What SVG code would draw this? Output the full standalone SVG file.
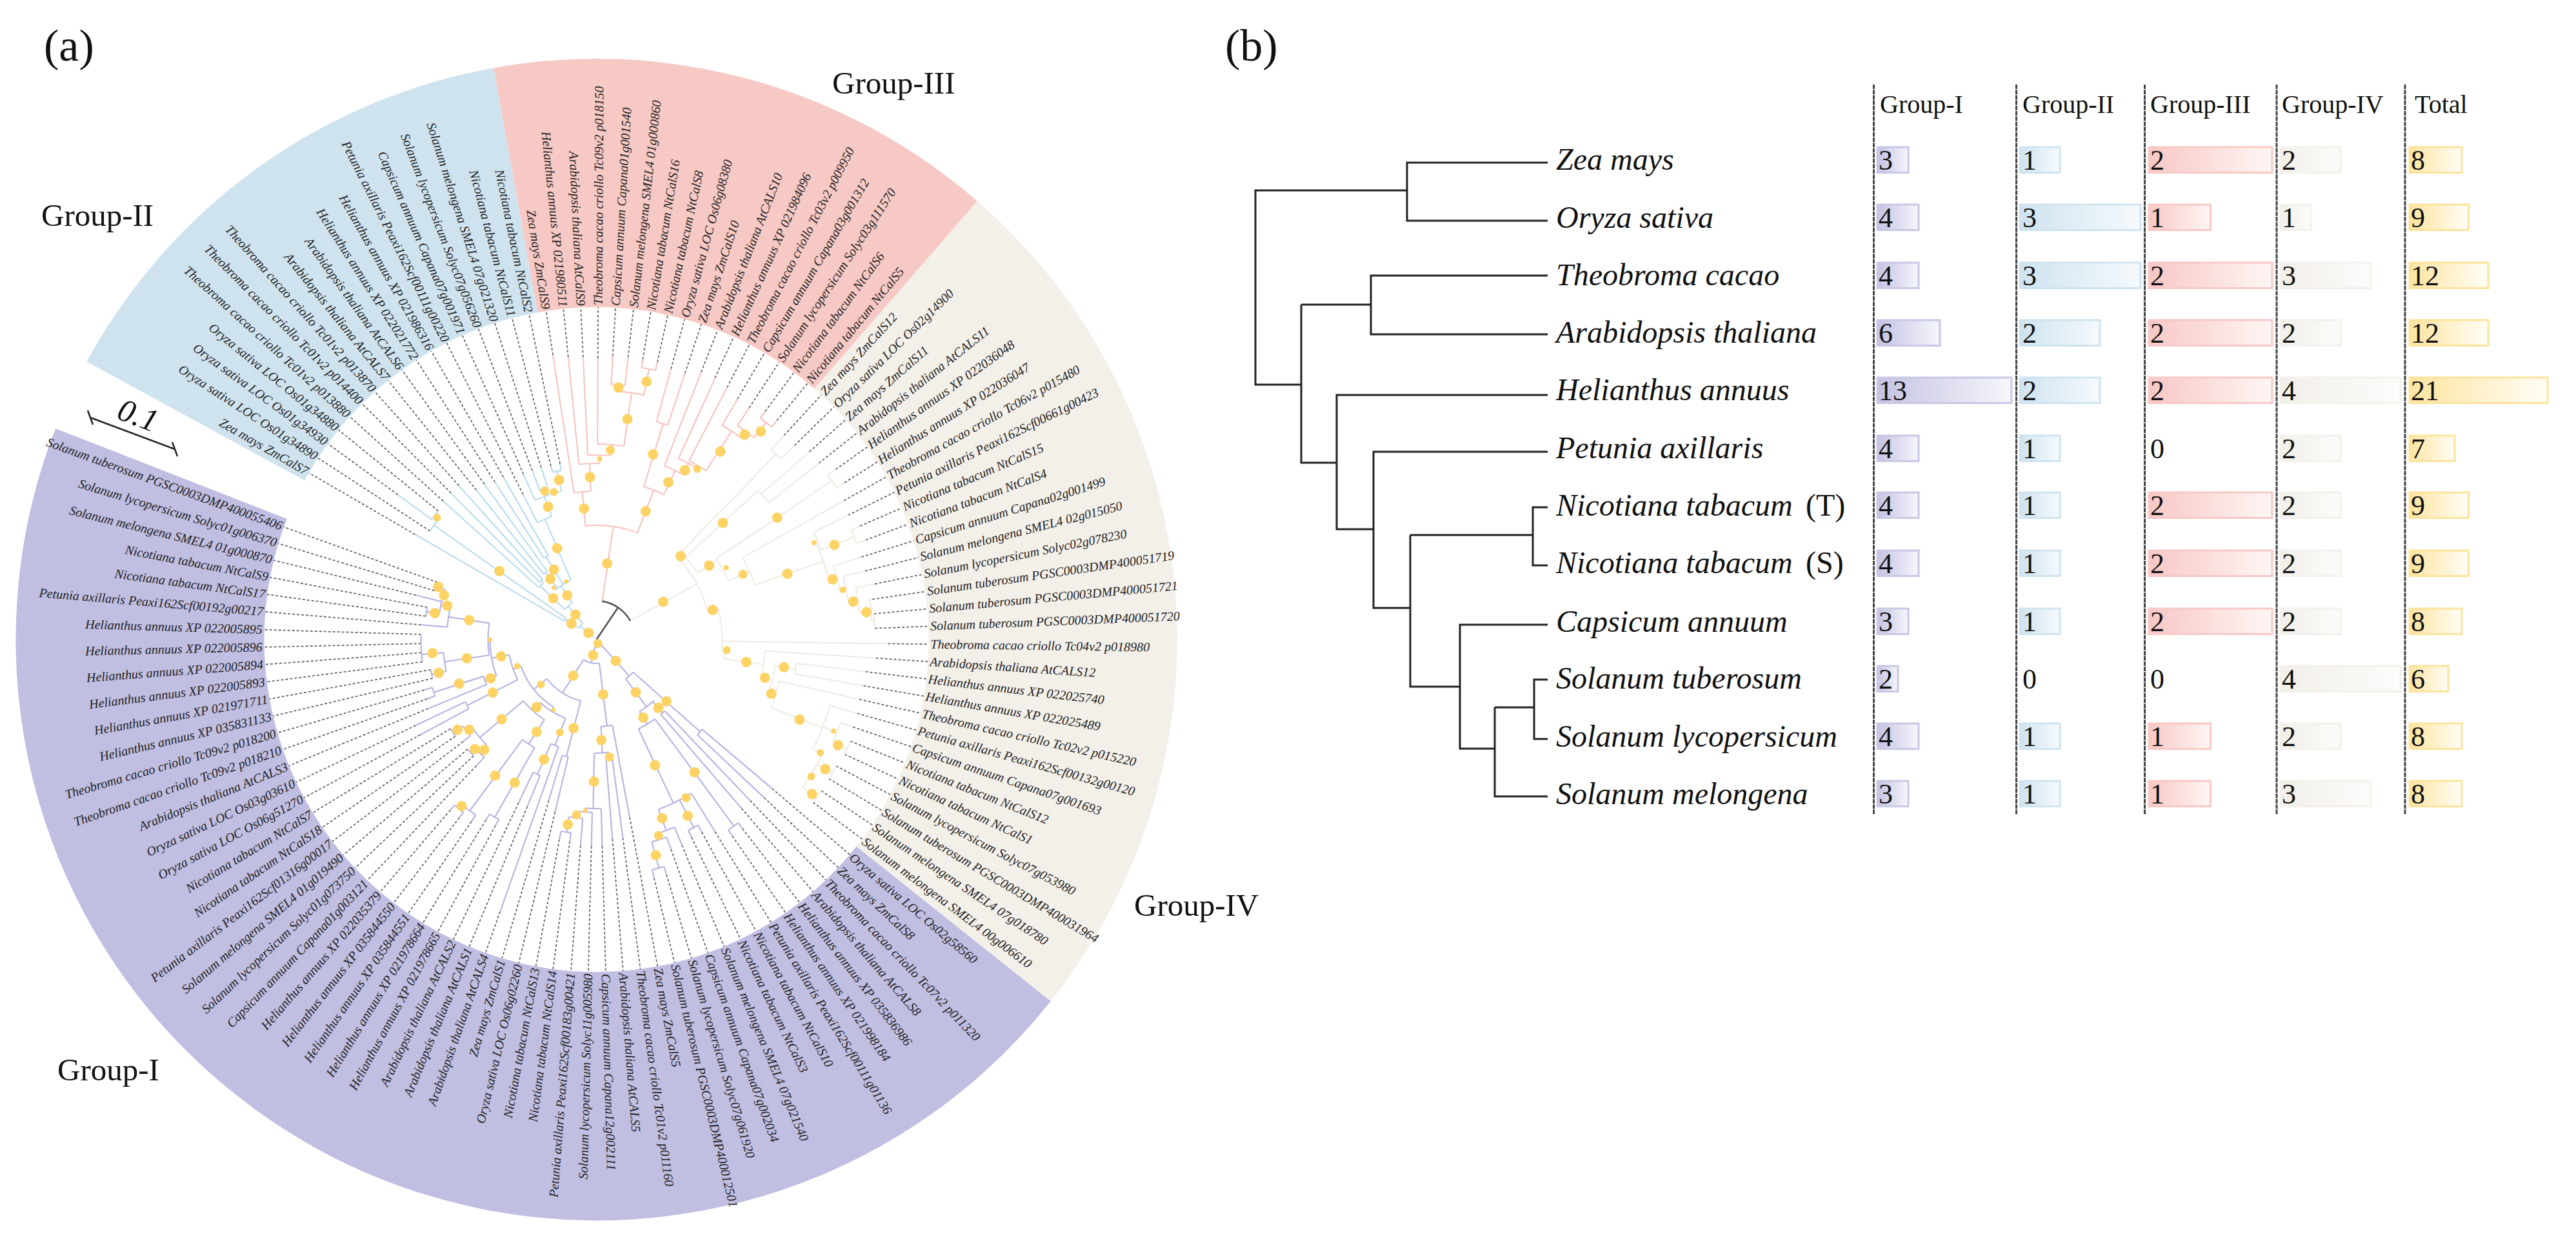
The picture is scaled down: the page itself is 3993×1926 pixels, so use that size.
<svg xmlns="http://www.w3.org/2000/svg" width="3993" height="1926" viewBox="0 0 3993 1926">
<style>
text{font-family:"Liberation Serif","Times New Roman",serif;fill:#111}
.tip text{font-size:20px;font-style:italic;fill:#222}
.l{text-anchor:end}
.big{font-size:49px}
.sp{font-size:48px;font-style:italic}
.up{font-size:48px;font-style:normal}
.hd{font-size:40px}
.n{font-size:44px}
.sec circle{fill:none;stroke-width:385}
.arc circle,.root{fill:none}
.dash path{fill:none;stroke:#666;stroke-width:1.8;stroke-dasharray:4 3}
.arc{fill:none;stroke-width:2.2}
.pu{stroke:#b8b6e2}
.bl{stroke:#bcdcee}
.pk{stroke:#f8c5c1}
.be{stroke:#efece4}
.root{stroke:#555;stroke-width:2.6}
.dots circle{fill:#fdd365}
.tree path{fill:none;stroke:#222;stroke-width:3}
.col path{stroke:#444;stroke-width:3;stroke-dasharray:7 1.2;fill:none}
rect.b{stroke-width:3}
.g1{fill:url(#f1);stroke:#c9c8e6}
.g2{fill:url(#f2);stroke:#cfe4f0}
.g3{fill:url(#f3);stroke:#f8c9c6}
.g4{fill:url(#f4);stroke:#f4f1ec}
.g5{fill:url(#f5);stroke:#fde39c}
</style>
<defs>
<linearGradient id="f1"><stop offset="0" stop-color="#c4c3e3"/><stop offset="1" stop-color="#f6f6fb"/></linearGradient>
<linearGradient id="f2"><stop offset="0" stop-color="#cfe3ef"/><stop offset="1" stop-color="#f6fafd"/></linearGradient>
<linearGradient id="f3"><stop offset="0" stop-color="#f7c8c5"/><stop offset="1" stop-color="#fff6f5"/></linearGradient>
<linearGradient id="f4"><stop offset="0" stop-color="#f2efe9"/><stop offset="1" stop-color="#fdfcfb"/></linearGradient>
<linearGradient id="f5"><stop offset="0" stop-color="#fde4a0"/><stop offset="1" stop-color="#fffdf6"/></linearGradient>
</defs>
<rect width="3993" height="1926" fill="#fff"/>
<g id="panel-a" transform="translate(924.5 991)">
<g id="sectors" class="sec">
<circle r="707.5" pathLength="360" stroke="#c0bee1" stroke-dasharray="162.8 720" transform="rotate(38.5)"/>
<circle r="707.5" pathLength="360" stroke="#cfe3ef" stroke-dasharray="51.2 720" transform="rotate(208.6)"/>
<circle r="707.5" pathLength="360" stroke="#f7c9c5" stroke-dasharray="51.2 720" transform="rotate(259.8)"/>
<circle r="707.5" pathLength="360" stroke="#f3efe9" stroke-dasharray="87.5 720" transform="rotate(311)"/>
</g>
<g id="connectors">
<g class="dash">
<path d="M262 0H515" transform="rotate(199.8)"/><path d="M262 0H515" transform="rotate(196.8)"/><path d="M288 0H515" transform="rotate(193.8)"/><path d="M267 0H515" transform="rotate(190.8)"/><path d="M267 0H515" transform="rotate(187.8)"/><path d="M273 0H515" transform="rotate(184.8)"/><path d="M272 0H515" transform="rotate(181.7)"/><path d="M272 0H515" transform="rotate(178.7)"/><path d="M272 0H515" transform="rotate(175.7)"/><path d="M272 0H515" transform="rotate(172.7)"/><path d="M261 0H515" transform="rotate(169.7)"/><path d="M261 0H515" transform="rotate(166.7)"/><path d="M278 0H515" transform="rotate(163.7)"/><path d="M278 0H515" transform="rotate(160.7)"/><path d="M282 0H515" transform="rotate(157.7)"/><path d="M310 0H515" transform="rotate(154.6)"/><path d="M310 0H515" transform="rotate(151.6)"/><path d="M265 0H515" transform="rotate(148.6)"/><path d="M265 0H515" transform="rotate(145.6)"/><path d="M260 0H515" transform="rotate(142.6)"/><path d="M262 0H515" transform="rotate(139.6)"/><path d="M262 0H515" transform="rotate(136.6)"/><path d="M270 0H515" transform="rotate(133.6)"/><path d="M348 0H515" transform="rotate(130.6)"/><path d="M348 0H515" transform="rotate(127.6)"/><path d="M342 0H515" transform="rotate(124.5)"/><path d="M328 0H515" transform="rotate(121.5)"/><path d="M328 0H515" transform="rotate(118.5)"/><path d="M280 0H515" transform="rotate(115.5)"/><path d="M280 0H515" transform="rotate(112.5)"/><path d="M447 0H515" transform="rotate(109.5)"/><path d="M260 0H515" transform="rotate(106.5)"/><path d="M275 0H515" transform="rotate(103.5)"/><path d="M315 0H515" transform="rotate(100.5)"/><path d="M315 0H515" transform="rotate(97.5)"/><path d="M320 0H515" transform="rotate(94.4)"/><path d="M320 0H515" transform="rotate(91.4)"/><path d="M320 0H515" transform="rotate(88.4)"/><path d="M310 0H515" transform="rotate(85.4)"/><path d="M310 0H515" transform="rotate(82.4)"/><path d="M280 0H515" transform="rotate(79.4)"/><path d="M380 0H515" transform="rotate(76.4)"/><path d="M380 0H515" transform="rotate(73.4)"/><path d="M345 0H515" transform="rotate(70.4)"/><path d="M345 0H515" transform="rotate(67.4)"/><path d="M340 0H515" transform="rotate(64.3)"/><path d="M340 0H515" transform="rotate(61.3)"/><path d="M350 0H515" transform="rotate(58.3)"/><path d="M370 0H515" transform="rotate(55.3)"/><path d="M370 0H515" transform="rotate(52.3)"/><path d="M345 0H515" transform="rotate(49.3)"/><path d="M345 0H515" transform="rotate(46.3)"/><path d="M357 0H515" transform="rotate(43.3)"/><path d="M357 0H515" transform="rotate(40.3)"/>
<path d="M325 0H515" transform="rotate(210.1)"/><path d="M308 0H515" transform="rotate(213.1)"/><path d="M381 0H515" transform="rotate(216.1)"/><path d="M316 0H515" transform="rotate(219.1)"/><path d="M320 0H515" transform="rotate(222.1)"/><path d="M320 0H515" transform="rotate(225.2)"/><path d="M320 0H515" transform="rotate(228.2)"/><path d="M297 0H515" transform="rotate(231.2)"/><path d="M297 0H515" transform="rotate(234.2)"/><path d="M290 0H515" transform="rotate(237.2)"/><path d="M290 0H515" transform="rotate(240.2)"/><path d="M252 0H515" transform="rotate(243.2)"/><path d="M280 0H515" transform="rotate(246.2)"/><path d="M280 0H515" transform="rotate(249.2)"/><path d="M280 0H515" transform="rotate(252.2)"/><path d="M278 0H515" transform="rotate(255.3)"/><path d="M278 0H515" transform="rotate(258.3)"/>
<path d="M446 0H515" transform="rotate(261.3)"/><path d="M440 0H515" transform="rotate(264.3)"/><path d="M438 0H515" transform="rotate(267.3)"/><path d="M436 0H515" transform="rotate(270.3)"/><path d="M440 0H515" transform="rotate(273.3)"/><path d="M440 0H515" transform="rotate(276.4)"/><path d="M440 0H515" transform="rotate(279.4)"/><path d="M440 0H515" transform="rotate(282.4)"/><path d="M435 0H515" transform="rotate(285.4)"/><path d="M435 0H515" transform="rotate(288.4)"/><path d="M445 0H515" transform="rotate(291.4)"/><path d="M445 0H515" transform="rotate(294.4)"/><path d="M440 0H515" transform="rotate(297.4)"/><path d="M432 0H515" transform="rotate(300.4)"/><path d="M430 0H515" transform="rotate(303.4)"/><path d="M440 0H515" transform="rotate(306.5)"/><path d="M440 0H515" transform="rotate(309.5)"/>
<path d="M430 0H515" transform="rotate(312.6)"/><path d="M430 0H515" transform="rotate(315.6)"/><path d="M440 0H515" transform="rotate(318.6)"/><path d="M440 0H515" transform="rotate(321.6)"/><path d="M455 0H515" transform="rotate(324.6)"/><path d="M455 0H515" transform="rotate(327.7)"/><path d="M440 0H515" transform="rotate(330.7)"/><path d="M435 0H515" transform="rotate(333.7)"/><path d="M445 0H515" transform="rotate(336.7)"/><path d="M445 0H515" transform="rotate(339.7)"/><path d="M430 0H515" transform="rotate(342.7)"/><path d="M430 0H515" transform="rotate(345.7)"/><path d="M440 0H515" transform="rotate(348.7)"/><path d="M432 0H515" transform="rotate(351.7)"/><path d="M432 0H515" transform="rotate(354.7)"/><path d="M432 0H515" transform="rotate(357.7)"/><path d="M452 0H515" transform="rotate(0.8)"/><path d="M434 0H515" transform="rotate(3.8)"/><path d="M420 0H515" transform="rotate(6.8)"/><path d="M420 0H515" transform="rotate(9.8)"/><path d="M418 0H515" transform="rotate(12.8)"/><path d="M420 0H515" transform="rotate(15.8)"/><path d="M420 0H515" transform="rotate(18.8)"/><path d="M424 0H515" transform="rotate(21.8)"/><path d="M424 0H515" transform="rotate(24.8)"/><path d="M420 0H515" transform="rotate(27.8)"/><path d="M420 0H515" transform="rotate(30.9)"/><path d="M420 0H515" transform="rotate(33.9)"/><path d="M420 0H515" transform="rotate(36.9)"/>
</g>
<g id="clade-IV" class="arc be">
<path d="M60 0H178" transform="rotate(331)"/><circle r="178" pathLength="360" stroke-dasharray="30.6 720" transform="rotate(315)"/><path d="M178 0H188" transform="rotate(315)"/><circle r="188" pathLength="360" stroke-dasharray="12.6 720" transform="rotate(314.1)"/><path d="M188 0H400" transform="rotate(314.1)"/><circle r="400" pathLength="360" stroke-dasharray="3 720" transform="rotate(312.6)"/><path d="M400 0H430" transform="rotate(312.6)"/><path d="M400 0H430" transform="rotate(315.6)"/><path d="M188 0H341" transform="rotate(317.3)"/><circle r="341" pathLength="360" stroke-dasharray="4.3 720" transform="rotate(317.3)"/><path d="M341 0H440" transform="rotate(318.6)"/><path d="M341 0H440" transform="rotate(321.6)"/>
<path d="M188 0H224" transform="rotate(326.7)"/><circle r="224" pathLength="360" stroke-dasharray="10 720" transform="rotate(326)"/><path d="M224 0H440" transform="rotate(326)"/><circle r="440" pathLength="360" stroke-dasharray="3.1 720" transform="rotate(324.6)"/><path d="M440 0H455" transform="rotate(324.6)"/><path d="M440 0H455" transform="rotate(327.7)"/><path d="M224 0H260" transform="rotate(336)"/><circle r="260" pathLength="360" stroke-dasharray="10.3 720" transform="rotate(330.7)"/><path d="M260 0H440" transform="rotate(330.7)"/><path d="M260 0H372" transform="rotate(341)"/><circle r="372" pathLength="360" stroke-dasharray="9.7 720" transform="rotate(336)"/><path d="M372 0H375" transform="rotate(336)"/><circle r="375" pathLength="360" stroke-dasharray="4.6 720" transform="rotate(333.7)"/><path d="M375 0H435" transform="rotate(333.7)"/><path d="M375 0H430" transform="rotate(338.3)"/><circle r="430" pathLength="360" stroke-dasharray="3 720" transform="rotate(336.7)"/><path d="M430 0H445" transform="rotate(336.7)"/><path d="M430 0H445" transform="rotate(339.7)"/>
<path d="M372 0H385" transform="rotate(345.7)"/><circle r="385" pathLength="360" stroke-dasharray="5.9 720" transform="rotate(342.7)"/><path d="M385 0H430" transform="rotate(342.7)"/><path d="M385 0H395" transform="rotate(348.6)"/><circle r="395" pathLength="360" stroke-dasharray="5.9 720" transform="rotate(345.7)"/><path d="M395 0H430" transform="rotate(345.7)"/><path d="M395 0H410" transform="rotate(351.6)"/><circle r="410" pathLength="360" stroke-dasharray="5.5 720" transform="rotate(348.7)"/><path d="M410 0H440" transform="rotate(348.7)"/><path d="M410 0H428" transform="rotate(354.2)"/><circle r="428" pathLength="360" stroke-dasharray="4.5 720" transform="rotate(351.7)"/><path d="M428 0H432" transform="rotate(351.7)"/><path d="M428 0H432" transform="rotate(356.2)"/><circle r="432" pathLength="360" stroke-dasharray="3 720" transform="rotate(354.7)"/>
<path d="M178 0H195" transform="rotate(345.6)"/><circle r="195" pathLength="360" stroke-dasharray="19 720" transform="rotate(345.6)"/><path d="M195 0H452" transform="rotate(0.8)"/><path d="M195 0H200" transform="rotate(4.6)"/><circle r="200" pathLength="360" stroke-dasharray="3.9 720" transform="rotate(4.6)"/><path d="M200 0H262" transform="rotate(8.5)"/><circle r="262" pathLength="360" stroke-dasharray="9.2 720" transform="rotate(3.8)"/><path d="M262 0H434" transform="rotate(3.8)"/><path d="M262 0H280" transform="rotate(13)"/><circle r="280" pathLength="360" stroke-dasharray="8.8 720" transform="rotate(8.4)"/><path d="M280 0H312" transform="rotate(8.4)"/><circle r="312" pathLength="360" stroke-dasharray="3 720" transform="rotate(6.8)"/><path d="M312 0H420" transform="rotate(6.8)"/><path d="M312 0H420" transform="rotate(9.8)"/><path d="M280 0H291" transform="rotate(17.2)"/><circle r="291" pathLength="360" stroke-dasharray="8.5 720" transform="rotate(12.8)"/><path d="M291 0H418" transform="rotate(12.8)"/><path d="M291 0H376" transform="rotate(21.3)"/><circle r="376" pathLength="360" stroke-dasharray="11 720" transform="rotate(15.8)"/><path d="M376 0H420" transform="rotate(15.8)"/><path d="M376 0H400" transform="rotate(21.1)"/><circle r="400" pathLength="360" stroke-dasharray="4.8 720" transform="rotate(18.8)"/><path d="M400 0H420" transform="rotate(18.8)"/><path d="M400 0H424" transform="rotate(23.6)"/><circle r="424" pathLength="360" stroke-dasharray="3 720" transform="rotate(21.8)"/><path d="M376 0H393" transform="rotate(26.8)"/><circle r="393" pathLength="360" stroke-dasharray="8.8 720" transform="rotate(26.8)"/><path d="M393 0H420" transform="rotate(29.5)"/><circle r="420" pathLength="360" stroke-dasharray="3.1 720" transform="rotate(27.8)"/><path d="M393 0H420" transform="rotate(35.6)"/><circle r="420" pathLength="360" stroke-dasharray="3 720" transform="rotate(33.9)"/>
</g>
<g id="clade-III" class="arc pk">
<path d="M60 0H177" transform="rotate(278.5)"/><circle r="177" pathLength="360" stroke-dasharray="26.5 720" transform="rotate(264.5)"/><path d="M177 0H230" transform="rotate(264.5)"/><circle r="230" pathLength="360" stroke-dasharray="6.5 720" transform="rotate(261.3)"/><path d="M230 0H446" transform="rotate(261.3)"/><path d="M230 0H273" transform="rotate(267.8)"/><circle r="273" pathLength="360" stroke-dasharray="6.8 720" transform="rotate(264.3)"/><path d="M273 0H440" transform="rotate(264.3)"/><path d="M273 0H286" transform="rotate(271.1)"/><circle r="286" pathLength="360" stroke-dasharray="7.2 720" transform="rotate(267.3)"/><path d="M286 0H438" transform="rotate(267.3)"/><path d="M286 0H303" transform="rotate(274.5)"/><circle r="303" pathLength="360" stroke-dasharray="7.8 720" transform="rotate(270.3)"/><path d="M303 0H436" transform="rotate(270.3)"/><path d="M303 0H386" transform="rotate(278.1)"/><circle r="386" pathLength="360" stroke-dasharray="6 720" transform="rotate(275)"/><path d="M386 0H396" transform="rotate(275)"/><circle r="396" pathLength="360" stroke-dasharray="3.1 720" transform="rotate(273.3)"/><path d="M396 0H440" transform="rotate(273.3)"/><path d="M396 0H440" transform="rotate(276.4)"/><path d="M386 0H427" transform="rotate(281)"/><circle r="427" pathLength="360" stroke-dasharray="3 720" transform="rotate(279.4)"/><path d="M427 0H440" transform="rotate(279.4)"/><path d="M427 0H440" transform="rotate(282.4)"/>
<path d="M177 0H248" transform="rotate(291)"/><circle r="248" pathLength="360" stroke-dasharray="7.8 720" transform="rotate(287.2)"/><path d="M248 0H350" transform="rotate(287.2)"/><circle r="350" pathLength="360" stroke-dasharray="3 720" transform="rotate(285.4)"/><path d="M350 0H435" transform="rotate(285.4)"/><path d="M350 0H435" transform="rotate(288.4)"/><path d="M248 0H289" transform="rotate(295)"/><circle r="289" pathLength="360" stroke-dasharray="6.2 720" transform="rotate(291.4)"/><path d="M289 0H445" transform="rotate(291.4)"/><path d="M289 0H308" transform="rotate(297.6)"/><circle r="308" pathLength="360" stroke-dasharray="6 720" transform="rotate(294.4)"/><path d="M308 0H445" transform="rotate(294.4)"/><path d="M308 0H312" transform="rotate(300.4)"/><circle r="312" pathLength="360" stroke-dasharray="5.6 720" transform="rotate(297.4)"/><path d="M312 0H440" transform="rotate(297.4)"/><path d="M312 0H385" transform="rotate(303)"/><circle r="385" pathLength="360" stroke-dasharray="5.4 720" transform="rotate(300.4)"/><path d="M385 0H432" transform="rotate(300.4)"/><path d="M385 0H397" transform="rotate(305.8)"/><circle r="397" pathLength="360" stroke-dasharray="4.6 720" transform="rotate(303.4)"/><path d="M397 0H430" transform="rotate(303.4)"/><path d="M397 0H427" transform="rotate(308)"/><circle r="427" pathLength="360" stroke-dasharray="3 720" transform="rotate(306.5)"/><path d="M427 0H440" transform="rotate(306.5)"/><path d="M427 0H440" transform="rotate(309.5)"/>
</g>
<g id="clade-II" class="arc bl">
<path d="M5 0H33" transform="rotate(220)"/><circle r="33" pathLength="360" stroke-dasharray="17.3 720" transform="rotate(212.7)"/><path d="M33 0H57" transform="rotate(212.7)"/><circle r="57" pathLength="360" stroke-dasharray="5 720" transform="rotate(210.1)"/><path d="M57 0H325" transform="rotate(210.1)"/><path d="M57 0H308" transform="rotate(215.1)"/><circle r="308" pathLength="360" stroke-dasharray="4.4 720" transform="rotate(213.1)"/><path d="M308 0H316" transform="rotate(217.5)"/><circle r="316" pathLength="360" stroke-dasharray="3 720" transform="rotate(216.1)"/><path d="M316 0H381" transform="rotate(216.1)"/>
<path d="M33 0H68" transform="rotate(230)"/><circle r="68" pathLength="360" stroke-dasharray="12.8 720" transform="rotate(223.7)"/><path d="M68 0H120" transform="rotate(223.7)"/><circle r="120" pathLength="360" stroke-dasharray="4.6 720" transform="rotate(222.1)"/><path d="M120 0H320" transform="rotate(222.1)"/><path d="M120 0H125" transform="rotate(226.7)"/><circle r="125" pathLength="360" stroke-dasharray="3 720" transform="rotate(225.2)"/><path d="M125 0H320" transform="rotate(225.2)"/><path d="M125 0H320" transform="rotate(228.2)"/>
<path d="M68 0H100" transform="rotate(236.5)"/><circle r="100" pathLength="360" stroke-dasharray="16.3 720" transform="rotate(230.5)"/><path d="M100 0H130" transform="rotate(232.8)"/><circle r="130" pathLength="360" stroke-dasharray="3 720" transform="rotate(231.2)"/><path d="M130 0H297" transform="rotate(231.2)"/><path d="M130 0H297" transform="rotate(234.2)"/><path d="M100 0H150" transform="rotate(238.7)"/><circle r="150" pathLength="360" stroke-dasharray="3 720" transform="rotate(237.2)"/><path d="M150 0H290" transform="rotate(237.2)"/><path d="M150 0H290" transform="rotate(240.2)"/>
<path d="M100 0H203" transform="rotate(246.8)"/><circle r="203" pathLength="360" stroke-dasharray="6.8 720" transform="rotate(243.2)"/><path d="M203 0H252" transform="rotate(243.2)"/><path d="M203 0H236" transform="rotate(250)"/><circle r="236" pathLength="360" stroke-dasharray="10.6 720" transform="rotate(246.2)"/><path d="M236 0H280" transform="rotate(246.2)"/><path d="M236 0H246" transform="rotate(250.8)"/><circle r="246" pathLength="360" stroke-dasharray="3 720" transform="rotate(249.2)"/><path d="M246 0H280" transform="rotate(249.2)"/><path d="M246 0H280" transform="rotate(252.2)"/><path d="M236 0H268" transform="rotate(256.8)"/><circle r="268" pathLength="360" stroke-dasharray="3 720" transform="rotate(255.3)"/><path d="M268 0H278" transform="rotate(255.3)"/><path d="M268 0H278" transform="rotate(258.3)"/>
</g>
<g id="clade-I" class="arc pu">
<circle r="12" pathLength="360" stroke-dasharray="54 720" transform="rotate(48)"/><path d="M12 0H37" transform="rotate(102)"/><circle r="37" pathLength="360" stroke-dasharray="39.5 720" transform="rotate(83)"/><path d="M12 0H76" transform="rotate(48)"/><circle r="76" pathLength="360" stroke-dasharray="11.4 720" transform="rotate(41.6)"/><path d="M76 0H215" transform="rotate(41.6)"/><circle r="215" pathLength="360" stroke-dasharray="3 720" transform="rotate(40.3)"/><path d="M215 0H357" transform="rotate(43.3)"/><path d="M215 0H357" transform="rotate(40.3)"/>
<path d="M76 0H130" transform="rotate(53.3)"/><circle r="130" pathLength="360" stroke-dasharray="12.3 720" transform="rotate(46.7)"/><path d="M130 0H153" transform="rotate(47.8)"/><circle r="153" pathLength="360" stroke-dasharray="3 720" transform="rotate(46.3)"/><path d="M153 0H345" transform="rotate(49.3)"/><path d="M153 0H345" transform="rotate(46.3)"/><path d="M130 0H153" transform="rotate(59)"/><circle r="153" pathLength="360" stroke-dasharray="11.2 720" transform="rotate(53.6)"/><path d="M153 0H359" transform="rotate(53.6)"/><circle r="359" pathLength="360" stroke-dasharray="3 720" transform="rotate(52.3)"/><path d="M359 0H370" transform="rotate(55.3)"/><path d="M359 0H370" transform="rotate(52.3)"/>
<path d="M153 0H280" transform="rotate(64.8)"/><circle r="280" pathLength="360" stroke-dasharray="11.6 720" transform="rotate(58.3)"/><path d="M280 0H350" transform="rotate(58.3)"/><path d="M280 0H328" transform="rotate(62.6)"/><circle r="328" pathLength="360" stroke-dasharray="3 720" transform="rotate(61.3)"/><path d="M328 0H340" transform="rotate(61.3)"/><path d="M328 0H340" transform="rotate(64.3)"/><path d="M280 0H315" transform="rotate(69.9)"/><circle r="315" pathLength="360" stroke-dasharray="5 720" transform="rotate(67.4)"/><path d="M315 0H345" transform="rotate(67.4)"/><path d="M315 0H325" transform="rotate(72.4)"/><circle r="325" pathLength="360" stroke-dasharray="4.3 720" transform="rotate(70.4)"/><path d="M325 0H345" transform="rotate(70.4)"/><path d="M325 0H367" transform="rotate(74.7)"/><circle r="367" pathLength="360" stroke-dasharray="3 720" transform="rotate(73.4)"/><path d="M367 0H380" transform="rotate(73.4)"/><path d="M367 0H380" transform="rotate(76.4)"/>
<path d="M37 0H135" transform="rotate(83)"/><circle r="135" pathLength="360" stroke-dasharray="7.6 720" transform="rotate(79.4)"/><path d="M135 0H280" transform="rotate(79.4)"/><path d="M135 0H176" transform="rotate(87)"/><circle r="176" pathLength="360" stroke-dasharray="7.4 720" transform="rotate(83.7)"/><path d="M176 0H187" transform="rotate(83.7)"/><circle r="187" pathLength="360" stroke-dasharray="3 720" transform="rotate(82.4)"/><path d="M187 0H310" transform="rotate(82.4)"/><path d="M187 0H310" transform="rotate(85.4)"/><path d="M176 0H262" transform="rotate(91.1)"/><circle r="262" pathLength="360" stroke-dasharray="5.4 720" transform="rotate(88.4)"/><path d="M262 0H320" transform="rotate(88.4)"/><path d="M262 0H268" transform="rotate(93.8)"/><circle r="268" pathLength="360" stroke-dasharray="5.1 720" transform="rotate(91.4)"/><path d="M268 0H320" transform="rotate(91.4)"/><path d="M268 0H278" transform="rotate(96.5)"/><circle r="278" pathLength="360" stroke-dasharray="4.4 720" transform="rotate(94.4)"/><path d="M278 0H320" transform="rotate(94.4)"/><path d="M278 0H302" transform="rotate(98.8)"/><circle r="302" pathLength="360" stroke-dasharray="3 720" transform="rotate(97.5)"/><path d="M302 0H315" transform="rotate(97.5)"/><path d="M302 0H315" transform="rotate(100.5)"/>
<path d="M37 0H98" transform="rotate(122.5)"/><circle r="98" pathLength="360" stroke-dasharray="37.2 720" transform="rotate(104.4)"/><path d="M98 0H187" transform="rotate(104.4)"/><circle r="187" pathLength="360" stroke-dasharray="3 720" transform="rotate(103.5)"/><path d="M187 0H275" transform="rotate(103.5)"/><path d="M187 0H260" transform="rotate(106.5)"/><path d="M98 0H124" transform="rotate(141.6)"/><circle r="124" pathLength="360" stroke-dasharray="38.2 720" transform="rotate(122.3)"/><path d="M124 0H131" transform="rotate(122)"/><circle r="131" pathLength="360" stroke-dasharray="20.4 720" transform="rotate(111.4)"/><path d="M131 0H176" transform="rotate(111.4)"/><circle r="176" pathLength="360" stroke-dasharray="4.1 720" transform="rotate(109.5)"/><path d="M176 0H447" transform="rotate(109.5)"/><path d="M176 0H228" transform="rotate(113.6)"/><circle r="228" pathLength="360" stroke-dasharray="3 720" transform="rotate(112.5)"/><path d="M228 0H280" transform="rotate(112.5)"/><path d="M228 0H280" transform="rotate(115.5)"/>
<path d="M131 0H148" transform="rotate(131.8)"/><circle r="148" pathLength="360" stroke-dasharray="17 720" transform="rotate(123)"/><path d="M148 0H193" transform="rotate(123)"/><circle r="193" pathLength="360" stroke-dasharray="6.7 720" transform="rotate(119.8)"/><path d="M193 0H317" transform="rotate(119.8)"/><circle r="317" pathLength="360" stroke-dasharray="3 720" transform="rotate(118.5)"/><path d="M317 0H328" transform="rotate(118.5)"/><path d="M317 0H328" transform="rotate(121.5)"/><path d="M193 0H330" transform="rotate(126.5)"/><circle r="330" pathLength="360" stroke-dasharray="4.5 720" transform="rotate(124.5)"/><path d="M330 0H342" transform="rotate(124.5)"/><path d="M330 0H338" transform="rotate(129)"/><circle r="338" pathLength="360" stroke-dasharray="3 720" transform="rotate(127.6)"/><path d="M338 0H348" transform="rotate(127.6)"/><path d="M338 0H348" transform="rotate(130.6)"/>
<path d="M148 0H236" transform="rotate(140)"/><circle r="236" pathLength="360" stroke-dasharray="8 720" transform="rotate(136)"/><path d="M236 0H246" transform="rotate(144)"/><circle r="246" pathLength="360" stroke-dasharray="4.4 720" transform="rotate(142.6)"/><path d="M246 0H260" transform="rotate(142.6)"/><path d="M246 0H265" transform="rotate(147)"/><circle r="265" pathLength="360" stroke-dasharray="3 720" transform="rotate(145.6)"/><path d="M236 0H252" transform="rotate(136)"/><circle r="252" pathLength="360" stroke-dasharray="4.4 720" transform="rotate(133.6)"/><path d="M252 0H270" transform="rotate(133.6)"/><path d="M252 0H262" transform="rotate(138)"/><circle r="262" pathLength="360" stroke-dasharray="3 720" transform="rotate(136.6)"/>
<path d="M124 0H137" transform="rotate(160.5)"/><circle r="137" pathLength="360" stroke-dasharray="17 720" transform="rotate(153)"/><path d="M137 0H225" transform="rotate(153)"/><circle r="225" pathLength="360" stroke-dasharray="3 720" transform="rotate(151.6)"/><path d="M225 0H310" transform="rotate(151.6)"/><path d="M225 0H310" transform="rotate(154.6)"/><path d="M137 0H165" transform="rotate(170)"/><circle r="165" pathLength="360" stroke-dasharray="20 720" transform="rotate(160)"/><path d="M165 0H168" transform="rotate(180)"/><circle r="168" pathLength="360" stroke-dasharray="17 720" transform="rotate(171.7)"/><path d="M165 0H184" transform="rotate(160)"/><circle r="184" pathLength="360" stroke-dasharray="4.3 720" transform="rotate(157.7)"/><path d="M184 0H282" transform="rotate(157.7)"/><path d="M184 0H265" transform="rotate(162)"/><circle r="265" pathLength="360" stroke-dasharray="3 720" transform="rotate(160.7)"/><path d="M265 0H278" transform="rotate(160.7)"/><path d="M265 0H278" transform="rotate(163.7)"/>
<path d="M168 0H238" transform="rotate(171.7)"/><circle r="238" pathLength="360" stroke-dasharray="7 720" transform="rotate(168.1)"/><path d="M238 0H272" transform="rotate(175.1)"/><circle r="272" pathLength="360" stroke-dasharray="9 720" transform="rotate(172.7)"/><path d="M238 0H261" transform="rotate(168.1)"/><circle r="261" pathLength="360" stroke-dasharray="3 720" transform="rotate(166.7)"/><path d="M168 0H232" transform="rotate(188.7)"/><circle r="232" pathLength="360" stroke-dasharray="7.8 720" transform="rotate(184.8)"/><path d="M232 0H273" transform="rotate(184.8)"/><path d="M232 0H247" transform="rotate(192.6)"/><circle r="247" pathLength="360" stroke-dasharray="9 720" transform="rotate(189.3)"/><path d="M247 0H267" transform="rotate(189.3)"/><circle r="267" pathLength="360" stroke-dasharray="3 720" transform="rotate(187.8)"/><path d="M247 0H288" transform="rotate(193.8)"/><path d="M247 0H262" transform="rotate(198.3)"/><circle r="262" pathLength="360" stroke-dasharray="3 720" transform="rotate(196.8)"/>
</g>
<g id="root">
<path class="root" d="M0 0H60" transform="rotate(304)"/><circle class="root" r="60" pathLength="360" stroke-dasharray="52.5 720" transform="rotate(278.5)"/>
</g>
</g>
<g id="support-dots" class="dots">
<circle cx="119" r="8" transform="rotate(278)"/><circle cx="204" r="8" transform="rotate(264.6)"/><circle cx="252" r="8" transform="rotate(267.7)"/><circle cx="280" r="4" transform="rotate(271)"/><circle cx="294.5" r="7" transform="rotate(274.2)"/><circle cx="345" r="8" transform="rotate(278)"/><circle cx="392" r="8" transform="rotate(275)"/><circle cx="407" r="8" transform="rotate(281)"/><circle cx="213" r="8" transform="rotate(291)"/><circle cx="300" r="8" transform="rotate(287)"/><circle cx="268" r="8" transform="rotate(294.6)"/><circle cx="296" r="8" transform="rotate(297.6)"/><circle cx="307" r="6" transform="rotate(300.6)"/><circle cx="349" r="8" transform="rotate(303.4)"/><circle cx="392" r="8" transform="rotate(305.9)"/><circle cx="411" r="8" transform="rotate(308.3)"/>
<circle cx="16" r="8" transform="rotate(220)"/><circle cx="46" r="8" transform="rotate(212.7)"/><circle cx="50.5" r="8" transform="rotate(230)"/><circle cx="184" r="8" transform="rotate(215.2)"/><circle cx="311" r="6" transform="rotate(217.4)"/><circle cx="92.7" r="8" transform="rotate(223.7)"/><circle cx="82" r="8" transform="rotate(236.5)"/><circle cx="118" r="8" transform="rotate(232.8)"/><circle cx="127" r="8" transform="rotate(238.7)"/><circle cx="154" r="8" transform="rotate(246.7)"/><circle cx="104" r="3.5" transform="rotate(230.5)"/><circle cx="101.5" r="3.5" transform="rotate(242.5)"/><circle cx="219" r="8" transform="rotate(250)"/><circle cx="243.6" r="7" transform="rotate(250.8)"/><circle cx="238" r="6" transform="rotate(253.9)"/><circle cx="254" r="8" transform="rotate(256.8)"/>
<circle cx="6.7" r="7" transform="rotate(70)"/><circle cx="24.6" r="8" transform="rotate(102)"/><circle cx="44.6" r="8" transform="rotate(47.7)"/><circle cx="144.7" r="8" transform="rotate(41.4)"/><circle cx="102" r="8" transform="rotate(53.3)"/><circle cx="142.8" r="8" transform="rotate(47.8)"/><circle cx="141" r="8" transform="rotate(59)"/><circle cx="255.8" r="8" transform="rotate(53.5)"/><circle cx="215" r="8" transform="rotate(65)"/><circle cx="281.7" r="7" transform="rotate(60.4)"/><circle cx="295" r="8" transform="rotate(69.8)"/><circle cx="307.5" r="8" transform="rotate(62.6)"/><circle cx="318.5" r="7" transform="rotate(72.4)"/><circle cx="346.6" r="8" transform="rotate(74.6)"/><circle cx="85.6" r="8" transform="rotate(83)"/><circle cx="156" r="8" transform="rotate(87.2)"/><circle cx="183" r="7" transform="rotate(83.7)"/><circle cx="220" r="8" transform="rotate(91)"/><circle cx="265.6" r="3.5" transform="rotate(93.8)"/><circle cx="273.5" r="7" transform="rotate(96.5)"/><circle cx="290" r="8" transform="rotate(98.8)"/>
<circle cx="66.6" r="8" transform="rotate(122.7)"/><circle cx="141.8" r="8" transform="rotate(104.5)"/><circle cx="110.7" r="6" transform="rotate(141)"/><circle cx="128" r="3.5" transform="rotate(121.5)"/><circle cx="140" r="8" transform="rotate(131.6)"/><circle cx="154.7" r="6" transform="rotate(111.5)"/><circle cx="202.8" r="8" transform="rotate(113.7)"/><circle cx="170.5" r="8" transform="rotate(123)"/><circle cx="255.5" r="8" transform="rotate(119.8)"/><circle cx="262.8" r="8" transform="rotate(126.7)"/><circle cx="332" r="8" transform="rotate(129)"/><circle cx="191.8" r="8" transform="rotate(140)"/><circle cx="256.8" r="8" transform="rotate(147)"/><circle cx="241.7" r="8" transform="rotate(144.7)"/><circle cx="253.5" r="8" transform="rotate(138)"/><circle cx="243.8" r="8" transform="rotate(135.5)"/><circle cx="129.5" r="5" transform="rotate(161.4)"/><circle cx="150" r="8" transform="rotate(170)"/><circle cx="180.5" r="8" transform="rotate(152.9)"/><circle cx="174.6" r="8" transform="rotate(159.9)"/><circle cx="223.5" r="8" transform="rotate(162.2)"/><circle cx="165" r="3.5" transform="rotate(180)"/><circle cx="203" r="8" transform="rotate(171.8)"/><circle cx="255" r="8" transform="rotate(175.3)"/><circle cx="250" r="8" transform="rotate(168.1)"/><circle cx="199.5" r="8" transform="rotate(188.7)"/><circle cx="237" r="8" transform="rotate(192.8)"/><circle cx="254" r="8" transform="rotate(189.3)"/><circle cx="246" r="8" transform="rotate(196.2)"/><circle cx="258.6" r="8" transform="rotate(198.4)"/>
<circle cx="119" r="8" transform="rotate(330.5)"/><circle cx="183.7" r="8" transform="rotate(315.3)"/><circle cx="186" r="8" transform="rotate(345.7)"/><circle cx="209" r="8" transform="rotate(326.7)"/><circle cx="230" r="4" transform="rotate(331)"/><circle cx="248.6" r="7" transform="rotate(336)"/><circle cx="313" r="8" transform="rotate(341)"/><circle cx="266.6" r="8" transform="rotate(317.3)"/><circle cx="338" r="8" transform="rotate(326)"/><circle cx="369" r="4" transform="rotate(336)"/><circle cx="397" r="8" transform="rotate(338.3)"/><circle cx="377.7" r="8" transform="rotate(345.7)"/><circle cx="389.7" r="5" transform="rotate(348.6)"/><circle cx="402.5" r="8" transform="rotate(351.6)"/><circle cx="420.7" r="8" transform="rotate(354.2)"/><circle cx="202.7" r="6" transform="rotate(4.6)"/><circle cx="234.8" r="8" transform="rotate(8.5)"/><circle cx="267.7" r="8" transform="rotate(12.8)"/><circle cx="294" r="8" transform="rotate(8.4)"/><circle cx="283.7" r="8" transform="rotate(17.2)"/><circle cx="338.6" r="8" transform="rotate(21.5)"/><circle cx="394" r="4" transform="rotate(21.1)"/><circle cx="408.6" r="8" transform="rotate(23.6)"/><circle cx="388.9" r="5.5" transform="rotate(26.8)"/><circle cx="407.7" r="8" transform="rotate(29.5)"/><circle cx="394.8" r="6" transform="rotate(32.5)"/><circle cx="411" r="8" transform="rotate(35.6)"/>
</g>
<g id="tips-I" class="tip">
<g id="I01"><text class="l" x="-518" y="6.5" transform="rotate(19.8)">Solanum tuberosum PGSC0003DMP400055406</text></g>
<g id="I02"><text class="l" x="-518" y="6.5" transform="rotate(16.8)">Solanum lycopersicum Solyc01g006370</text></g>
<g id="I03"><text class="l" x="-518" y="6.5" transform="rotate(13.8)">Solanum melongena SMEL4 01g000870</text></g>
<g id="I04"><text class="l" x="-518" y="6.5" transform="rotate(10.8)">Nicotiana tabacum NtCalS9</text></g>
<g id="I05"><text class="l" x="-518" y="6.5" transform="rotate(7.8)">Nicotiana tabacum NtCalS17</text></g>
<g id="I06"><text class="l" x="-518" y="6.5" transform="rotate(4.8)">Petunia axillaris Peaxi162Scf00192g00217</text></g>
<g id="I07"><text class="l" x="-518" y="6.5" transform="rotate(1.7)">Helianthus annuus XP 022005895</text></g>
<g id="I08"><text class="l" x="-518" y="6.5" transform="rotate(-1.3)">Helianthus annuus XP 022005896</text></g>
<g id="I09"><text class="l" x="-518" y="6.5" transform="rotate(-4.3)">Helianthus annuus XP 022005894</text></g>
<g id="I10"><text class="l" x="-518" y="6.5" transform="rotate(-7.3)">Helianthus annuus XP 022005893</text></g>
<g id="I11"><text class="l" x="-518" y="6.5" transform="rotate(-10.3)">Helianthus annuus XP 021971711</text></g>
<g id="I12"><text class="l" x="-518" y="6.5" transform="rotate(-13.3)">Helianthus annuus XP 035831133</text></g>
<g id="I13"><text class="l" x="-518" y="6.5" transform="rotate(-16.3)">Theobroma cacao criollo Tc09v2 p018200</text></g>
<g id="I14"><text class="l" x="-518" y="6.5" transform="rotate(-19.3)">Theobroma cacao criollo Tc09v2 p018210</text></g>
<g id="I15"><text class="l" x="-518" y="6.5" transform="rotate(-22.3)">Arabidopsis thaliana AtCALS3</text></g>
<g id="I16"><text class="l" x="-518" y="6.5" transform="rotate(-25.4)">Oryza sativa LOC Os03g03610</text></g>
<g id="I17"><text class="l" x="-518" y="6.5" transform="rotate(-28.4)">Oryza sativa LOC Os06g51270</text></g>
<g id="I18"><text class="l" x="-518" y="6.5" transform="rotate(-31.4)">Nicotiana tabacum NtCalS7</text></g>
<g id="I19"><text class="l" x="-518" y="6.5" transform="rotate(-34.4)">Nicotiana tabacum NtCalS18</text></g>
<g id="I20"><text class="l" x="-518" y="6.5" transform="rotate(-37.4)">Petunia axillaris Peaxi162Scf01316g00017</text></g>
<g id="I21"><text class="l" x="-518" y="6.5" transform="rotate(-40.4)">Solanum melongena SMEL4 01g019490</text></g>
<g id="I22"><text class="l" x="-518" y="6.5" transform="rotate(-43.4)">Solanum lycopersicum Solyc01g073750</text></g>
<g id="I23"><text class="l" x="-518" y="6.5" transform="rotate(-46.4)">Capsicum annuum Capana01g003121</text></g>
<g id="I24"><text class="l" x="-518" y="6.5" transform="rotate(-49.4)">Helianthus annuus XP 022035379</text></g>
<g id="I25"><text class="l" x="-518" y="6.5" transform="rotate(-52.4)">Helianthus annuus XP 035844550</text></g>
<g id="I26"><text class="l" x="-518" y="6.5" transform="rotate(-55.5)">Helianthus annuus XP 035844551</text></g>
<g id="I27"><text class="l" x="-518" y="6.5" transform="rotate(-58.5)">Helianthus annuus XP 021978664</text></g>
<g id="I28"><text class="l" x="-518" y="6.5" transform="rotate(-61.5)">Helianthus annuus XP 021978665</text></g>
<g id="I29"><text class="l" x="-518" y="6.5" transform="rotate(-64.5)">Arabidopsis thaliana AtCALS2</text></g>
<g id="I30"><text class="l" x="-518" y="6.5" transform="rotate(-67.5)">Arabidopsis thaliana AtCALS1</text></g>
<g id="I31"><text class="l" x="-518" y="6.5" transform="rotate(-70.5)">Arabidopsis thaliana AtCALS4</text></g>
<g id="I32"><text class="l" x="-518" y="6.5" transform="rotate(-73.5)">Zea mays ZmCalS1</text></g>
<g id="I33"><text class="l" x="-518" y="6.5" transform="rotate(-76.5)">Oryza sativa LOC Os06g02260</text></g>
<g id="I34"><text class="l" x="-518" y="6.5" transform="rotate(-79.5)">Nicotiana tabacum NtCalS13</text></g>
<g id="I35"><text class="l" x="-518" y="6.5" transform="rotate(-82.5)">Nicotiana tabacum NtCalS14</text></g>
<g id="I36"><text class="l" x="-518" y="6.5" transform="rotate(-85.6)">Petunia axillaris Peaxi162Scf00183g00421</text></g>
<g id="I37"><text class="l" x="-518" y="6.5" transform="rotate(-88.6)">Solanum lycopersicum Solyc11g005980</text></g>
<g id="I38"><text x="518" y="6.5" transform="rotate(88.4)">Capsicum annuum Capana12g002111</text></g>
<g id="I39"><text x="518" y="6.5" transform="rotate(85.4)">Arabidopsis thaliana AtCALS5</text></g>
<g id="I40"><text x="518" y="6.5" transform="rotate(82.4)">Theobroma cacao criollo Tc01v2 p011160</text></g>
<g id="I41"><text x="518" y="6.5" transform="rotate(79.4)">Zea mays ZmCalS5</text></g>
<g id="I42"><text x="518" y="6.5" transform="rotate(76.4)">Solanum tuberosum PGSC0003DMP400012501</text></g>
<g id="I43"><text x="518" y="6.5" transform="rotate(73.4)">Solanum lycopersicum Solyc07g061920</text></g>
<g id="I44"><text x="518" y="6.5" transform="rotate(70.4)">Capsicum annuum Capana07g002034</text></g>
<g id="I45"><text x="518" y="6.5" transform="rotate(67.4)">Solanum melongena SMEL4 07g021540</text></g>
<g id="I46"><text x="518" y="6.5" transform="rotate(64.3)">Nicotiana tabacum NtCalS3</text></g>
<g id="I47"><text x="518" y="6.5" transform="rotate(61.3)">Nicotiana tabacum NtCalS10</text></g>
<g id="I48"><text x="518" y="6.5" transform="rotate(58.3)">Petunia axillaris Peaxi162Scf00111g01136</text></g>
<g id="I49"><text x="518" y="6.5" transform="rotate(55.3)">Helianthus annuus XP 021998184</text></g>
<g id="I50"><text x="518" y="6.5" transform="rotate(52.3)">Helianthus annuus XP 035836986</text></g>
<g id="I51"><text x="518" y="6.5" transform="rotate(49.3)">Arabidopsis thaliana AtCALS8</text></g>
<g id="I52"><text x="518" y="6.5" transform="rotate(46.3)">Theobroma cacao criollo Tc07v2 p011320</text></g>
<g id="I53"><text x="518" y="6.5" transform="rotate(43.3)">Zea mays ZmCalS8</text></g>
<g id="I54"><text x="518" y="6.5" transform="rotate(40.3)">Oryza sativa LOC Os02g58560</text></g>
</g>
<g id="tips-II" class="tip">
<g id="II01"><text class="l" x="-518" y="6.5" transform="rotate(30.1)">Zea mays ZmCalS7</text></g>
<g id="II02"><text class="l" x="-518" y="6.5" transform="rotate(33.1)">Oryza sativa LOC Os01g34890</text></g>
<g id="II03"><text class="l" x="-518" y="6.5" transform="rotate(36.1)">Oryza sativa LOC Os01g34930</text></g>
<g id="II04"><text class="l" x="-518" y="6.5" transform="rotate(39.1)">Oryza sativa LOC Os01g34880</text></g>
<g id="II05"><text class="l" x="-518" y="6.5" transform="rotate(42.1)">Theobroma cacao criollo Tc01v2 p013880</text></g>
<g id="II06"><text class="l" x="-518" y="6.5" transform="rotate(45.2)">Theobroma cacao criollo Tc01v2 p014400</text></g>
<g id="II07"><text class="l" x="-518" y="6.5" transform="rotate(48.2)">Theobroma cacao criollo Tc01v2 p013870</text></g>
<g id="II08"><text class="l" x="-518" y="6.5" transform="rotate(51.2)">Arabidopsis thaliana AtCALS7</text></g>
<g id="II09"><text class="l" x="-518" y="6.5" transform="rotate(54.2)">Arabidopsis thaliana AtCALS6</text></g>
<g id="II10"><text class="l" x="-518" y="6.5" transform="rotate(57.2)">Helianthus annuus XP 022021772</text></g>
<g id="II11"><text class="l" x="-518" y="6.5" transform="rotate(60.2)">Helianthus annuus XP 021986316</text></g>
<g id="II12"><text class="l" x="-518" y="6.5" transform="rotate(63.2)">Petunia axillaris Peaxi162Scf00111g00220</text></g>
<g id="II13"><text class="l" x="-518" y="6.5" transform="rotate(66.2)">Capsicum annuum Capana07g001971</text></g>
<g id="II14"><text class="l" x="-518" y="6.5" transform="rotate(69.2)">Solanum lycopersicum Solyc07g056260</text></g>
<g id="II15"><text class="l" x="-518" y="6.5" transform="rotate(72.2)">Solanum melongena SMEL4 07g021320</text></g>
<g id="II16"><text class="l" x="-518" y="6.5" transform="rotate(75.3)">Nicotiana tabacum NtCalS11</text></g>
<g id="II17"><text class="l" x="-518" y="6.5" transform="rotate(78.3)">Nicotiana tabacum NtCalS2</text></g>
</g>
<g id="tips-III" class="tip">
<g id="III01"><text class="l" x="-518" y="6.5" transform="rotate(81.3)">Zea mays ZmCalS9</text></g>
<g id="III02"><text class="l" x="-518" y="6.5" transform="rotate(84.3)">Helianthus annuus XP 021980511</text></g>
<g id="III03"><text class="l" x="-518" y="6.5" transform="rotate(87.3)">Arabidopsis thaliana AtCalS9</text></g>
<g id="III04"><text x="518" y="6.5" transform="rotate(-89.7)">Theobroma cacao criollo Tc09v2 p018150</text></g>
<g id="III05"><text x="518" y="6.5" transform="rotate(-86.7)">Capsicum annuum Capana01g001540</text></g>
<g id="III06"><text x="518" y="6.5" transform="rotate(-83.6)">Solanum melongena SMEL4 01g000860</text></g>
<g id="III07"><text x="518" y="6.5" transform="rotate(-80.6)">Nicotiana tabacum NtCalS16</text></g>
<g id="III08"><text x="518" y="6.5" transform="rotate(-77.6)">Nicotiana tabacum NtCalS8</text></g>
<g id="III09"><text x="518" y="6.5" transform="rotate(-74.6)">Oryza sativa LOC Os06g08380</text></g>
<g id="III10"><text x="518" y="6.5" transform="rotate(-71.6)">Zea mays ZmCalS10</text></g>
<g id="III11"><text x="518" y="6.5" transform="rotate(-68.6)">Arabidopsis thaliana AtCALS10</text></g>
<g id="III12"><text x="518" y="6.5" transform="rotate(-65.6)">Helianthus annuus XP 021984096</text></g>
<g id="III13"><text x="518" y="6.5" transform="rotate(-62.6)">Theobroma cacao criollo Tc03v2 p009950</text></g>
<g id="III14"><text x="518" y="6.5" transform="rotate(-59.6)">Capsicum annuum Capana03g001312</text></g>
<g id="III15"><text x="518" y="6.5" transform="rotate(-56.6)">Solanum lycopersicum Solyc03g111570</text></g>
<g id="III16"><text x="518" y="6.5" transform="rotate(-53.5)">Nicotiana tabacum NtCalS6</text></g>
<g id="III17"><text x="518" y="6.5" transform="rotate(-50.5)">Nicotiana tabacum NtCalS5</text></g>
</g>
<g id="tips-IV" class="tip">
<g id="IV01"><text x="518" y="6.5" transform="rotate(-47.4)">Zea mays ZmCalS12</text></g>
<g id="IV02"><text x="518" y="6.5" transform="rotate(-44.4)">Oryza sativa LOC Os02g14900</text></g>
<g id="IV03"><text x="518" y="6.5" transform="rotate(-41.4)">Zea mays ZmCalS11</text></g>
<g id="IV04"><text x="518" y="6.5" transform="rotate(-38.4)">Arabidopsis thaliana AtCALS11</text></g>
<g id="IV05"><text x="518" y="6.5" transform="rotate(-35.4)">Helianthus annuus XP 022036048</text></g>
<g id="IV06"><text x="518" y="6.5" transform="rotate(-32.3)">Helianthus annuus XP 022036047</text></g>
<g id="IV07"><text x="518" y="6.5" transform="rotate(-29.3)">Theobroma cacao criollo Tc06v2 p015480</text></g>
<g id="IV08"><text x="518" y="6.5" transform="rotate(-26.3)">Petunia axillaris Peaxi162Scf00661g00423</text></g>
<g id="IV09"><text x="518" y="6.5" transform="rotate(-23.3)">Nicotiana tabacum NtCalS15</text></g>
<g id="IV10"><text x="518" y="6.5" transform="rotate(-20.3)">Nicotiana tabacum NtCalS4</text></g>
<g id="IV11"><text x="518" y="6.5" transform="rotate(-17.3)">Capsicum annuum Capana02g001499</text></g>
<g id="IV12"><text x="518" y="6.5" transform="rotate(-14.3)">Solanum melongena SMEL4 02g015050</text></g>
<g id="IV13"><text x="518" y="6.5" transform="rotate(-11.3)">Solanum lycopersicum Solyc02g078230</text></g>
<g id="IV14"><text x="518" y="6.5" transform="rotate(-8.3)">Solanum tuberosum PGSC0003DMP400051719</text></g>
<g id="IV15"><text x="518" y="6.5" transform="rotate(-5.3)">Solanum tuberosum PGSC0003DMP400051721</text></g>
<g id="IV16"><text x="518" y="6.5" transform="rotate(-2.3)">Solanum tuberosum PGSC0003DMP400051720</text></g>
<g id="IV17"><text x="518" y="6.5" transform="rotate(0.8)">Theobroma cacao criollo Tc04v2 p018980</text></g>
<g id="IV18"><text x="518" y="6.5" transform="rotate(3.8)">Arabidopsis thaliana AtCALS12</text></g>
<g id="IV19"><text x="518" y="6.5" transform="rotate(6.8)">Helianthus annuus XP 022025740</text></g>
<g id="IV20"><text x="518" y="6.5" transform="rotate(9.8)">Helianthus annuus XP 022025489</text></g>
<g id="IV21"><text x="518" y="6.5" transform="rotate(12.8)">Theobroma cacao criollo Tc02v2 p015220</text></g>
<g id="IV22"><text x="518" y="6.5" transform="rotate(15.8)">Petunia axillaris Peaxi162Scf00132g00120</text></g>
<g id="IV23"><text x="518" y="6.5" transform="rotate(18.8)">Capsicum annuum Capana07g001693</text></g>
<g id="IV24"><text x="518" y="6.5" transform="rotate(21.8)">Nicotiana tabacum NtCalS12</text></g>
<g id="IV25"><text x="518" y="6.5" transform="rotate(24.8)">Nicotiana tabacum NtCalS1</text></g>
<g id="IV26"><text x="518" y="6.5" transform="rotate(27.8)">Solanum lycopersicum Solyc07g053980</text></g>
<g id="IV27"><text x="518" y="6.5" transform="rotate(30.9)">Solanum tuberosum PGSC0003DMP400031964</text></g>
<g id="IV28"><text x="518" y="6.5" transform="rotate(33.9)">Solanum melongena SMEL4 07g018780</text></g>
<g id="IV29"><text x="518" y="6.5" transform="rotate(36.9)">Solanum melongena SMEL4 00g006610</text></g>
</g>
</g>
<g id="labels-a">
<text x="68" y="94" font-size="70">(a)</text>
<text class="big" x="64" y="350">Group-II</text>
<text class="big" x="1290" y="145">Group-III</text>
<text class="big" x="1758" y="1419">Group-IV</text>
<text class="big" x="89" y="1674">Group-I</text>
</g>
<g id="scale-bar">
<path d="M140 647L271 696M136 636L144 658M267 685L275 707" fill="none" stroke="#222" stroke-width="2.5"/>
<text x="179" y="648" font-size="50" font-style="italic" transform="rotate(20.5 179 648)">0.1</text>
</g>
<text x="1899" y="94" font-size="70">(b)</text>
<g id="connectors-b" class="tree">
<path d="M2399 252H2181V342H2399M2181 295H1946V596H2017M2017 472V717H2072M2017 472H2125M2399 427H2125V518H2399M2399 612H2072V820H2129M2399 700H2129V942H2186M2186 829V1064H2263M2186 829H2376M2399 786H2376V876H2399M2399 968H2263V1160H2317M2317 1096V1234H2399M2317 1096H2378M2399 1053H2378V1145H2399"/>
</g>
<g id="columns" class="col">
<path d="M2904.5 131V1262M3125.5 131V1262M3324.5 131V1262M3529 131V1262M3728 131V1262"/>
</g>
<g id="headers">
<text class="hd" x="2914" y="175">Group-I</text>
<text class="hd" x="3135" y="175">Group-II</text>
<text class="hd" x="3333" y="175">Group-III</text>
<text class="hd" x="3537" y="175">Group-IV</text>
<text class="hd" x="3743" y="175">Total</text>
</g>
<g id="row-zea"><text class="sp" x="2412" y="263">Zea mays</text>
<rect class="b g1" x="2910" y="228" width="48" height="39.5"/><rect class="b g2" x="3131" y="228" width="62" height="39.5"/><rect class="b g3" x="3331" y="228" width="191" height="39.5"/><rect class="b g4" x="3535" y="228" width="93" height="39.5"/><rect class="b g5" x="3735" y="228" width="81" height="39.5"/>
<text class="n" x="2912" y="263">3</text><text class="n" x="3135" y="263">1</text><text class="n" x="3333" y="263">2</text><text class="n" x="3537" y="263">2</text><text class="n" x="3737" y="263">8</text></g>
<g id="row-oryza"><text class="sp" x="2412" y="353">Oryza sativa</text>
<rect class="b g1" x="2910" y="317" width="64" height="39.5"/><rect class="b g2" x="3131" y="317" width="187" height="39.5"/><rect class="b g3" x="3331" y="317" width="95.5" height="39.5"/><rect class="b g4" x="3535" y="317" width="47" height="39.5"/><rect class="b g5" x="3735" y="317" width="91.5" height="39.5"/>
<text class="n" x="2912" y="352">4</text><text class="n" x="3135" y="352">3</text><text class="n" x="3333" y="352">1</text><text class="n" x="3537" y="352">1</text><text class="n" x="3737" y="352">9</text></g>
<g id="row-theobroma"><text class="sp" x="2412" y="442">Theobroma cacao</text>
<rect class="b g1" x="2910" y="407" width="64" height="39.5"/><rect class="b g2" x="3131" y="407" width="187" height="39.5"/><rect class="b g3" x="3331" y="407" width="191" height="39.5"/><rect class="b g4" x="3535" y="407" width="140" height="39.5"/><rect class="b g5" x="3735" y="407" width="122" height="39.5"/>
<text class="n" x="2912" y="442">4</text><text class="n" x="3135" y="442">3</text><text class="n" x="3333" y="442">2</text><text class="n" x="3537" y="442">3</text><text class="n" x="3737" y="442">12</text></g>
<g id="row-arabidopsis"><text class="sp" x="2412" y="531">Arabidopsis thaliana</text>
<rect class="b g1" x="2910" y="496" width="97" height="39.5"/><rect class="b g2" x="3131" y="496" width="124" height="39.5"/><rect class="b g3" x="3331" y="496" width="191" height="39.5"/><rect class="b g4" x="3535" y="496" width="93" height="39.5"/><rect class="b g5" x="3735" y="496" width="122" height="39.5"/>
<text class="n" x="2912" y="531">6</text><text class="n" x="3135" y="531">2</text><text class="n" x="3333" y="531">2</text><text class="n" x="3537" y="531">2</text><text class="n" x="3737" y="531">12</text></g>
<g id="row-helianthus"><text class="sp" x="2412" y="620">Helianthus annuus</text>
<rect class="b g1" x="2910" y="585" width="208" height="39.5"/><rect class="b g2" x="3131" y="585" width="124" height="39.5"/><rect class="b g3" x="3331" y="585" width="191" height="39.5"/><rect class="b g4" x="3535" y="585" width="186" height="39.5"/><rect class="b g5" x="3735" y="585" width="214" height="39.5"/>
<text class="n" x="2912" y="620">13</text><text class="n" x="3135" y="620">2</text><text class="n" x="3333" y="620">2</text><text class="n" x="3537" y="620">4</text><text class="n" x="3737" y="620">21</text></g>
<g id="row-petunia"><text class="sp" x="2412" y="710">Petunia axillaris</text>
<rect class="b g1" x="2910" y="675" width="64" height="39.5"/><rect class="b g2" x="3131" y="675" width="62" height="39.5"/><rect class="b g4" x="3535" y="675" width="93" height="39.5"/><rect class="b g5" x="3735" y="675" width="70" height="39.5"/>
<text class="n" x="2912" y="710">4</text><text class="n" x="3135" y="710">1</text><text class="n" x="3333" y="710">0</text><text class="n" x="3537" y="710">2</text><text class="n" x="3737" y="710">7</text></g>
<g id="row-nicotiana-t"><text class="sp" x="2412" y="799">Nicotiana tabacum<tspan class="up" x="2799">(T)</tspan></text>
<rect class="b g1" x="2910" y="763" width="64" height="39.5"/><rect class="b g2" x="3131" y="763" width="62" height="39.5"/><rect class="b g3" x="3331" y="763" width="191" height="39.5"/><rect class="b g4" x="3535" y="763" width="93" height="39.5"/><rect class="b g5" x="3735" y="763" width="91.5" height="39.5"/>
<text class="n" x="2912" y="798">4</text><text class="n" x="3135" y="798">1</text><text class="n" x="3333" y="798">2</text><text class="n" x="3537" y="798">2</text><text class="n" x="3737" y="798">9</text></g>
<g id="row-nicotiana-s"><text class="sp" x="2412" y="888">Nicotiana tabacum<tspan class="up" x="2799">(S)</tspan></text>
<rect class="b g1" x="2910" y="853" width="64" height="39.5"/><rect class="b g2" x="3131" y="853" width="62" height="39.5"/><rect class="b g3" x="3331" y="853" width="191" height="39.5"/><rect class="b g4" x="3535" y="853" width="93" height="39.5"/><rect class="b g5" x="3735" y="853" width="91.5" height="39.5"/>
<text class="n" x="2912" y="888">4</text><text class="n" x="3135" y="888">1</text><text class="n" x="3333" y="888">2</text><text class="n" x="3537" y="888">2</text><text class="n" x="3737" y="888">9</text></g>
<g id="row-capsicum"><text class="sp" x="2412" y="979">Capsicum annuum</text>
<rect class="b g1" x="2910" y="943" width="48" height="39.5"/><rect class="b g2" x="3131" y="943" width="62" height="39.5"/><rect class="b g3" x="3331" y="943" width="191" height="39.5"/><rect class="b g4" x="3535" y="943" width="93" height="39.5"/><rect class="b g5" x="3735" y="943" width="81" height="39.5"/>
<text class="n" x="2912" y="978">3</text><text class="n" x="3135" y="978">1</text><text class="n" x="3333" y="978">2</text><text class="n" x="3537" y="978">2</text><text class="n" x="3737" y="978">8</text></g>
<g id="row-tuberosum"><text class="sp" x="2412" y="1067">Solanum tuberosum</text>
<rect class="b g1" x="2910" y="1032" width="32" height="39.5"/><rect class="b g4" x="3535" y="1032" width="186" height="39.5"/><rect class="b g5" x="3735" y="1032" width="60" height="39.5"/>
<text class="n" x="2912" y="1067">2</text><text class="n" x="3135" y="1067">0</text><text class="n" x="3333" y="1067">0</text><text class="n" x="3537" y="1067">4</text><text class="n" x="3737" y="1067">6</text></g>
<g id="row-lycopersicum"><text class="sp" x="2412" y="1157">Solanum lycopersicum</text>
<rect class="b g1" x="2910" y="1121" width="64" height="39.5"/><rect class="b g2" x="3131" y="1121" width="62" height="39.5"/><rect class="b g3" x="3331" y="1121" width="95.5" height="39.5"/><rect class="b g4" x="3535" y="1121" width="93" height="39.5"/><rect class="b g5" x="3735" y="1121" width="81" height="39.5"/>
<text class="n" x="2912" y="1156">4</text><text class="n" x="3135" y="1156">1</text><text class="n" x="3333" y="1156">1</text><text class="n" x="3537" y="1156">2</text><text class="n" x="3737" y="1156">8</text></g>
<g id="row-melongena"><text class="sp" x="2412" y="1246">Solanum melongena</text>
<rect class="b g1" x="2910" y="1210" width="48" height="39.5"/><rect class="b g2" x="3131" y="1210" width="62" height="39.5"/><rect class="b g3" x="3331" y="1210" width="95.5" height="39.5"/><rect class="b g4" x="3535" y="1210" width="140" height="39.5"/><rect class="b g5" x="3735" y="1210" width="81" height="39.5"/>
<text class="n" x="2912" y="1245">3</text><text class="n" x="3135" y="1245">1</text><text class="n" x="3333" y="1245">1</text><text class="n" x="3537" y="1245">3</text><text class="n" x="3737" y="1245">8</text></g>
</svg>
